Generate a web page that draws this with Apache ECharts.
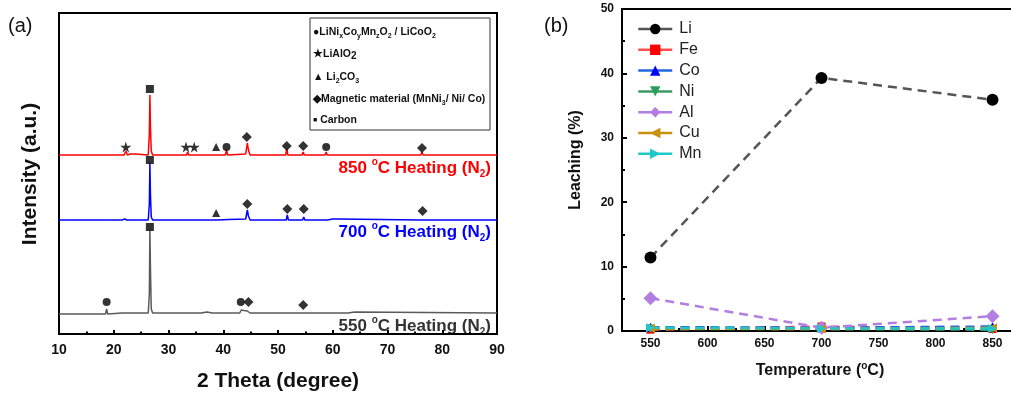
<!DOCTYPE html>
<html>
<head>
<meta charset="utf-8">
<script src="https://cdn.jsdelivr.net/npm/echarts@6/dist/echarts.min.js"></script>
<style>
  html, body { margin: 0; padding: 0; background: #fff; }
  #chart { width: 1011px; height: 396px; }
</style>
</head>
<body>
<div id="chart"></div>
<script>
const FONT = "'Liberation Sans', Arial, sans-serif";

// (a) XRD patterns, [2theta, intensity incl. stacking offset]
const xrd550 = [[10,20],[11.5,20],[11.7,21],[11.9,20],[18.5,20],[18.7,25],[18.9,20],[21.5,21],[24,21],[26.3,21],[26.5,40],[26.6,104],[26.7,67],[26.85,25],[27.1,21],[36,21],[37,22],[38,21],[43,21],[43.3,24],[43.8,23.5],[44.4,23],[44.6,24],[44.9,21],[54.4,21],[54.6,23],[54.8,21],[62.8,21],[63,22],[64,22],[64.2,21],[90,21]];
const xrd700 = [[10,114],[11.5,114],[11.7,115],[11.9,114],[21.5,114],[22,115],[22.4,114],[26.3,114],[26.5,130],[26.6,171],[26.7,140],[26.85,117],[27.1,114],[38.6,114],[38.8,116],[39,114],[41,114.5],[44.1,115],[44.4,124],[44.6,118],[44.9,114],[51.5,114],[51.7,119],[51.9,114],[54.5,114],[54.7,117],[54.9,114],[59,114],[60,115],[61,115],[61.3,114],[76.2,114],[76.4,116],[76.6,114],[77.5,114],[77.6,115],[77.7,114],[90,114]];
const xrd850 = [[10,179],[11.5,179],[11.7,180],[11.9,179],[21.9,179],[22.2,183],[22.5,179],[23,180],[24,180],[26.3,179],[26.5,200],[26.6,239],[26.7,207],[26.85,183],[27.1,179],[33.3,179],[33.5,182],[33.7,179],[34.8,179],[35,181],[35.2,179],[40.4,179],[40.6,184],[40.8,179],[44.1,180],[44.4,191],[44.6,184],[44.9,179],[51.4,179],[51.6,185],[51.8,179],[54.4,179],[54.6,182],[54.8,179],[58.6,179],[58.8,182],[59,179],[76.1,179],[76.3,182],[76.5,179],[77.5,179],[77.6,180],[77.7,179],[90,179]];

// (a) phase markers
const circleMarks = [[40.6,187],[58.8,187],[18.7,32],[43.2,32]];
const starMarks = [[22.2,187],[33.2,187],[34.7,187]];
const triangleMarks = [[38.7,187],[38.7,121]];
const diamondMarks = [[44.3,197],[51.6,188],[54.6,188],[76.3,186],[44.4,130],[51.7,125],[54.7,125],[76.4,123],[44.6,32],[54.6,29]];
const squareMarks = [[26.6,245],[26.6,174],[26.6,107]];

// (b) leaching vs temperature
const temps = [550, 700, 850];
const li = [11.4, 39.3, 35.9];
const fe = [0.2, 0.7, 0.3];
const co = [0.6, 0.5, 0.7];
const ni = [0.3, 0.3, 0.2];
const al = [5.1, 0.5, 2.3];
const cu = [0.4, 0.3, 0.5];
const mn = [0.5, 0.4, 0.4];

const majorT = [550, 600, 650, 700, 750, 800, 850];
const minorT = [575, 625, 675, 725, 775, 825];

const pair = arr => temps.map((t, i) => [t, arr[i]]);
const STAR = "path://M50,0 L61,35 L98,35 L68,57 L79,91 L50,70 L21,91 L32,57 L2,35 L39,35 Z";

const chart = echarts.init(document.getElementById("chart"));

const heatRich = {
  n: { fontSize: 17, fontWeight: "bold", fontFamily: FONT, lineHeight: 22 },
  sup: { fontSize: 10, fontWeight: "bold", fontFamily: FONT, verticalAlign: "top", lineHeight: 10 },
  sub: { fontSize: 10, fontWeight: "bold", fontFamily: FONT, verticalAlign: "bottom", lineHeight: 10 }
};
const legRich = {
  b: { fontSize: 10.5, fontWeight: "bold", fontFamily: FONT, lineHeight: 15, fill: "#111" },
  s: { fontSize: 7, fontWeight: "bold", fontFamily: FONT, verticalAlign: "bottom", lineHeight: 7, fill: "#111" },
  s2: { fontSize: 10, fontWeight: "bold", fontFamily: FONT, verticalAlign: "bottom", lineHeight: 10, fill: "#111" },
  q: { fontSize: 7, fontFamily: FONT, fill: "#111" }
};
const heatText = (t, x, y, color) => ({
  type: "text",
  x, y,
  style: {
    text: `{n|${t} }{sup|o}{n|C Heating (N}{sub|2}{n|)}`,
    fill: color, align: "right", verticalAlign: "middle", rich: heatRich
  }
});
const legLine = (t, y) => ({
  type: "text", x: 313, y, z: 11,
  style: { text: t, align: "left", verticalAlign: "middle", rich: legRich }
});
const title = (t, x, y, size, rot, rich) => ({
  type: "text", x, y, rotation: rot || 0,
  style: {
    text: t, fill: "#111", align: "center", verticalAlign: "middle",
    font: `bold ${size}px ${FONT}`, rich
  }
});

const lineSeries = (name, data, mark, line, symbol, size, rot) => ({
  name, type: "line", xAxisIndex: 1, yAxisIndex: 1, data: pair(data),
  symbol, symbolSize: size, symbolRotate: rot || 0,
  itemStyle: { color: mark },
  lineStyle: { color: line, width: 2.5, type: [9, 6] }
});

chart.setOption({
  animation: false,
  backgroundColor: "#fff",
  textStyle: { fontFamily: FONT },
  grid: [
    { left: 59, top: 13, width: 438, height: 321, show: true, borderColor: "#000", borderWidth: 2, outerBoundsMode: "none" },
    { left: 622, top: 9, width: 399, height: 322, show: true, borderColor: "#000", borderWidth: 2, outerBoundsMode: "none" }
  ],
  xAxis: [
    {
      gridIndex: 0, type: "value", min: 10, max: 90, interval: 10,
      axisLine: { lineStyle: { color: "#000", width: 2 } },
      axisTick: { inside: true, length: 4, lineStyle: { color: "#000", width: 2 } },
      minorTick: { show: true, splitNumber: 2, length: 2.5, lineStyle: { color: "#000", width: 2 } },
      axisLabel: { fontSize: 14, fontWeight: "bold", color: "#111", margin: 9 },
      splitLine: { show: false }
    },
    {
      gridIndex: 1, type: "value", min: 525, max: 875,
      axisLine: { lineStyle: { color: "#000", width: 2 } },
      axisTick: { inside: true, length: 5, customValues: majorT, lineStyle: { color: "#000", width: 2 } },
      axisLabel: { fontSize: 12, fontWeight: "bold", color: "#111", margin: 7, customValues: majorT },
      splitLine: { show: false }
    },
    {
      gridIndex: 1, type: "value", min: 525, max: 875, position: "bottom",
      axisLine: { show: false },
      axisTick: { inside: true, length: 3, customValues: minorT, lineStyle: { color: "#000", width: 2 } },
      axisLabel: { show: false },
      splitLine: { show: false }
    }
  ],
  yAxis: [
    {
      gridIndex: 0, type: "value", min: 0, max: 321,
      axisLine: { show: true, lineStyle: { color: "#000", width: 2 } },
      axisTick: { show: false }, axisLabel: { show: false }, splitLine: { show: false }
    },
    {
      gridIndex: 1, type: "value", min: 0, max: 50, interval: 10,
      axisLine: { show: true, lineStyle: { color: "#000", width: 2 } },
      axisTick: { inside: true, length: 5, lineStyle: { color: "#000", width: 2 } },
      minorTick: { show: true, splitNumber: 2, length: 3, lineStyle: { color: "#000", width: 2 } },
      axisLabel: { fontSize: 12, fontWeight: "bold", color: "#111", margin: 8 },
      splitLine: { show: false }
    }
  ],
  legend: {
    data: ["Li", "Fe", "Co", "Ni", "Al", "Cu", "Mn"],
    orient: "vertical", left: 637, top: 21, padding: 0,
    itemWidth: 34, itemHeight: 13, itemGap: 4.8,
    lineStyle: { type: "solid", width: 2.5 },
    textStyle: { fontSize: 16, color: "#222", fontFamily: FONT, padding: [0, 0, 0, 2] }
  },
  series: [
    { name: "550", type: "line", data: xrd550, symbol: "none", lineStyle: { color: "#5a5a5a", width: 1.5 } },
    { name: "700", type: "line", data: xrd700, symbol: "none", lineStyle: { color: "#0000ff", width: 1.5 } },
    { name: "850", type: "line", data: xrd850, symbol: "none", lineStyle: { color: "#ff0000", width: 1.5 } },
    { name: "m1", type: "scatter", data: circleMarks, symbol: "circle", symbolSize: 8, itemStyle: { color: "#000" }, z: 5 },
    { name: "m2", type: "scatter", data: starMarks, symbol: STAR, symbolSize: 11, itemStyle: { color: "#000" }, z: 5 },
    { name: "m3", type: "scatter", data: triangleMarks, symbol: "triangle", symbolSize: 8, itemStyle: { color: "#000" }, z: 5 },
    { name: "m4", type: "scatter", data: diamondMarks, symbol: "diamond", symbolSize: 10, itemStyle: { color: "#000" }, z: 5 },
    { name: "m5", type: "scatter", data: squareMarks, symbol: "rect", symbolSize: 8, itemStyle: { color: "#000" }, z: 5 },
    lineSeries("Li", li, "#000", "#555", "circle", 12),
    lineSeries("Fe", fe, "#ff0000", "#ff5050", "rect", 8),
    lineSeries("Co", co, "#0000ff", "#2266dd", "triangle", 9),
    lineSeries("Ni", ni, "#2a9d5c", "#3a9a62", "triangle", 9, 180),
    lineSeries("Al", al, "#b27ee2", "#b27ee2", "diamond", 14),
    lineSeries("Cu", cu, "#c8920e", "#c8920e", "triangle", 9, 90),
    lineSeries("Mn", mn, "#1ec8c8", "#1ec8c8", "triangle", 9, -90)
  ],
  graphic: [
    { type: "text", x: 8, y: 26, style: { text: "(a)", font: `20px ${FONT}`, fill: "#111", verticalAlign: "middle" } },
    { type: "text", x: 544, y: 26, style: { text: "(b)", font: `20px ${FONT}`, fill: "#111", verticalAlign: "middle" } },
    { type: "rect", shape: { x: 310, y: 18, width: 180, height: 112 }, style: { fill: "#fff", stroke: "#333", lineWidth: 1 }, z: 10 },
    legLine("{b|\u25CFLiNi}{s|x}{b|Co}{s|y}{b|Mn}{s|z}{b|O}{s|2}{b| / LiCoO}{s|2}", 32),
    legLine("{b|\u2605LiAlO}{s2|2}", 54),
    legLine("{b|\u25B2 Li}{s|2}{b|CO}{s|3}", 77),
    legLine("{b|\u25C6Magnetic material (MnNi}{s|3}{b|/ Ni/ Co)}", 99),
    legLine("{q|\u25A0}{b| Carbon}", 120),
    heatText("850", 491, 168, "#ff0000"),
    heatText("700", 491, 232, "#0000ff"),
    heatText("550", 491, 326, "#333"),
    title("2 Theta (degree)", 278, 381, 21),
    title("Intensity (a.u.)", 30, 174, 21, Math.PI / 2),
    title("Leaching (%)", 576, 160, 16, Math.PI / 2),
    title("{t|Temperature (}{o|o}{t|C)}", 820, 371, 16, 0, {
      t: { fontSize: 16, fontWeight: "bold", fontFamily: FONT, lineHeight: 20 },
      o: { fontSize: 10, fontWeight: "bold", fontFamily: FONT, verticalAlign: "top", lineHeight: 10 }
    })
  ]
});
</script>
</body>
</html>
